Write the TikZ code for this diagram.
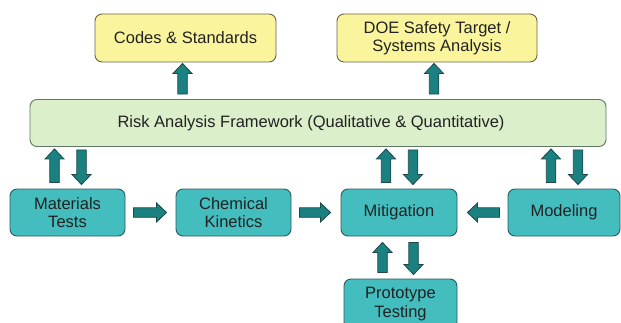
\documentclass[tikz,border=0pt]{standalone}
\usepackage{fontspec}
\setmainfont{Liberation Sans}
\usetikzlibrary{calc}
\definecolor{boxteal}{RGB}{67,189,190}
\definecolor{boxtealline}{RGB}{46,90,92}
\definecolor{boxyellow}{RGB}{250,245,156}
\definecolor{boxyellowline}{RGB}{107,100,69}
\definecolor{boxgreen}{RGB}{220,239,203}
\definecolor{boxgreenline}{RGB}{95,119,102}
\definecolor{arrowteal}{RGB}{27,128,128}
\definecolor{arrowline}{RGB}{30,72,72}
\definecolor{labeltext}{RGB}{34,34,34}

\begin{document}
\begin{tikzpicture}[x=1pt, y=1pt,
    box/.style={rounded corners=7pt, line width=0.9pt, align=center, inner sep=0pt,
      font=\fontsize{16.5}{18.5}\selectfont, text=labeltext},
    tealbox/.style={box, fill=boxteal, draw=boxtealline, minimum width=115pt, minimum height=47pt},
    yellowbox/.style={box, fill=boxyellow, draw=boxyellowline, minimum height=48pt},
    fatarrow/.style={draw=arrowline, fill=arrowteal, line width=0.8pt, to path={
      ($(\tikztostart)!4.75pt!90:(\tikztotarget)$)
      -- ($($(\tikztotarget)!10pt!(\tikztostart)$)!4.75pt!90:(\tikztotarget)$)
      -- ($($(\tikztotarget)!10pt!(\tikztostart)$)!9.5pt!90:(\tikztotarget)$)
      -- (\tikztotarget)
      -- ($($(\tikztotarget)!10pt!(\tikztostart)$)!9.5pt!-90:(\tikztotarget)$)
      -- ($($(\tikztotarget)!10pt!(\tikztostart)$)!4.75pt!-90:(\tikztotarget)$)
      -- ($(\tikztostart)!4.75pt!-90:(\tikztotarget)$)
      -- cycle}}]
  \useasboundingbox (0,0) rectangle (621,322);

  \node[yellowbox, minimum width=181pt] (codes) at (185.5,284) {Codes \& Standards};
  \node[yellowbox, minimum width=200pt] (doe) at (437,284) {DOE Safety Target /\\Systems Analysis};
  \node[box, fill=boxgreen, draw=boxgreenline, minimum width=576pt, minimum height=47pt] (risk) at (318,199)
    {Risk Analysis Framework (Qualitative \& Quantitative)\hspace*{14pt}};
  \node[tealbox] (mat) at (67.5,109.5) {Materials\\Tests};
  \node[tealbox] (chem) at (233.5,109.5) {Chemical\\Kinetics};
  \node[tealbox, minimum width=116pt] (mit) at (399,109.5) {Mitigation};
  \node[tealbox, minimum width=112pt] (mod) at (564,109.5) {Modeling};
  \node[tealbox, minimum width=113pt, minimum height=50pt] (proto) at (400.5,18) {Prototype\\Testing};

  \draw[fatarrow] ($(codes.south |- risk.north)+(-3pt,5pt)$) to ($(codes.south)+(-3pt,-1pt)$);
  \draw[fatarrow] ($(doe.south |- risk.north)+(-3pt,5pt)$) to ($(doe.south)+(-3pt,-1pt)$);
  \foreach \src in {mat, mit, mod} {
    \draw[fatarrow] ($(\src.north)+(-13pt,6pt)$) to ($(\src.north |- risk.south)+(-13pt,-2pt)$);
    \draw[fatarrow] ($(\src.north |- risk.south)+(14pt,-3pt)$) to ($(\src.north)+(14pt,4pt)$);
  }
  \draw[fatarrow] ($(proto.north)+(-18pt,6pt)$) to ($(mit.south -| proto.north)+(-18pt,-6pt)$);
  \draw[fatarrow] ($(mit.south -| proto.north)+(13pt,-6pt)$) to ($(proto.north)+(13pt,4pt)$);

  \draw[fatarrow] ($(mat.east)+(8pt,0)$) to ($(chem.west)+(-9pt,0)$);
  \draw[fatarrow] ($(chem.east)+(8pt,0)$) to ($(mit.west)+(-10pt,0)$);
  \draw[fatarrow] ($(mod.west)+(-8pt,0)$) to ($(mit.east)+(10pt,0)$);
\end{tikzpicture}
\end{document}
